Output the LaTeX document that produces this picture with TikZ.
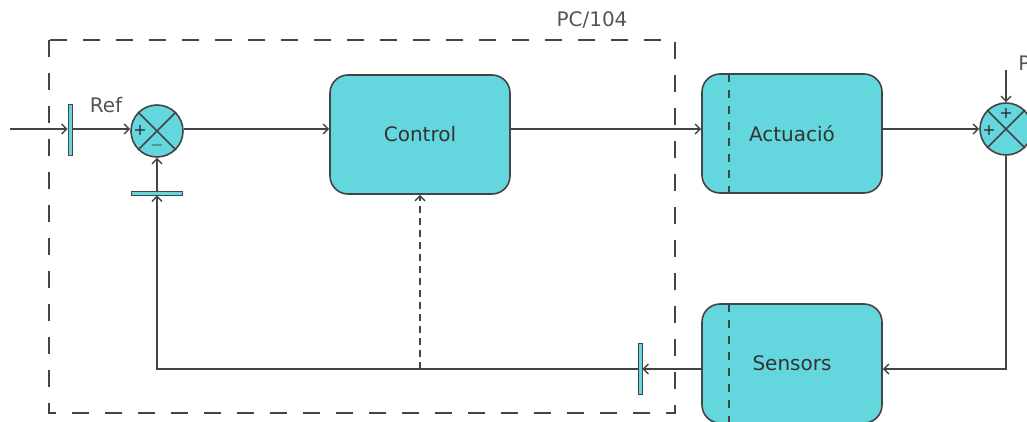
\documentclass[tikz,border=0pt]{standalone}
\usepackage{fontspec}
\setmainfont{DejaVu Sans}
\usepackage{xcolor}
\usetikzlibrary{positioning,arrows.meta}

\definecolor{blockfill}{RGB}{100,215,222}
\definecolor{linegray}{RGB}{68,68,68}
\definecolor{labelgray}{RGB}{85,85,85}

\begin{document}
\begin{tikzpicture}[
    x=0.5pt, y=-0.5pt,
    block/.style={rectangle, draw=linegray, line width=0.8pt, fill=blockfill, rounded corners=9pt, minimum width=90pt, minimum height=59.5pt, text=black!80, font=\fontsize{10}{12}\selectfont},
    sumnode/.style={circle, draw=linegray, line width=0.8pt, fill=blockfill, minimum size=26pt, inner sep=0pt},
    vbar/.style={rectangle, draw=linegray, line width=0.4pt, fill=blockfill, minimum width=2pt, minimum height=25.5pt, inner sep=0pt},
    hbar/.style={rectangle, draw=linegray, line width=0.4pt, fill=blockfill, minimum width=25.5pt, minimum height=2pt, inner sep=0pt},
    arrow/.style={-{Straight Barb[length=2.5pt,width=5pt]}, draw=linegray, line width=0.7pt},
    dasharrow/.style={arrow, dash pattern=on 3.5pt off 2.5pt},
    sign/.style={font=\fontsize{8}{9}\selectfont, text=black!85, inner sep=0pt},
    label/.style={font=\fontsize{10}{12}\selectfont, text=labelgray}
  ]
  \useasboundingbox (0,0) rectangle (1027,422);

  % PC/104 frame
  \draw[linegray, line width=0.8pt, dash pattern=on 8.5pt off 8pt] (49,40) rectangle (675,413);
  \node[label] (pc) at (592,20) {PC/104};

  % Blocks
  \node[block] (control) at (420,134.5) {Control};
  \node[block] (act) at (792,133.5) {Actuació};
  \node[block] (sens) at (792,363.5) {Sensors};
  \draw[linegray, line width=0.8pt, dash pattern=on 4pt off 4pt] (729,74) -- (729,193);
  \draw[linegray, line width=0.8pt, dash pattern=on 4pt off 4pt] (729,304) -- (729,422);

  % Summing junctions
  \node[sumnode] (sum1) at (157,131) {};
  \draw[linegray, line width=0.8pt] (sum1.north west) -- (sum1.south east) (sum1.north east) -- (sum1.south west);
  \node[sign] at (140,130) {+};
  \node[sign] at (157,146) {$-$};
  \node[sumnode] (sum2) at (1006,129) {};
  \draw[linegray, line width=0.8pt] (sum2.north west) -- (sum2.south east) (sum2.north east) -- (sum2.south west);
  \node[sign] at (1006,113) {+};
  \node[sign] at (989,130) {+};

  % Sampling bars
  \node[vbar] (inbar) at (70,129.5) {};
  \node[hbar] (fbbar) at (157,193) {};
  \node[vbar] (sbar) at (640,368.5) {};

  % Input, disturbance and feedback level
  \coordinate (in) at (10,129);
  \coordinate (dist) at (1006,70);
  \coordinate (fb) at (702,369);
  \node[label] (ref) at (106,105) {Ref};
  \node[label, anchor=west, inner sep=0pt] (p) at (1018,63) {P};

  % Forward path
  \draw[arrow] (in) -- (inbar.west |- in);
  \draw[arrow] (inbar.east |- in) -- (sum1.west |- in);
  \draw[arrow] (sum1.east |- in) -- (control.west |- in);
  \draw[arrow] (control.east |- in) -- (act.west |- in);
  \draw[arrow] (act.east |- sum2) -- (sum2.west);
  \draw[arrow] (dist) -- (sum2.north);

  % Feedback path
  \draw[arrow] (sum2.south) |- (sens.east |- fb);
  \draw[arrow] (sens.west |- fb) -- (sbar.east |- fb);
  \draw[arrow] (sbar.west |- fb) -| (fbbar.south);
  \draw[arrow] (fbbar.north) -- (sum1.south);
  \draw[dasharrow] (control.south |- fb) -- (control.south);
\end{tikzpicture}
\end{document}
